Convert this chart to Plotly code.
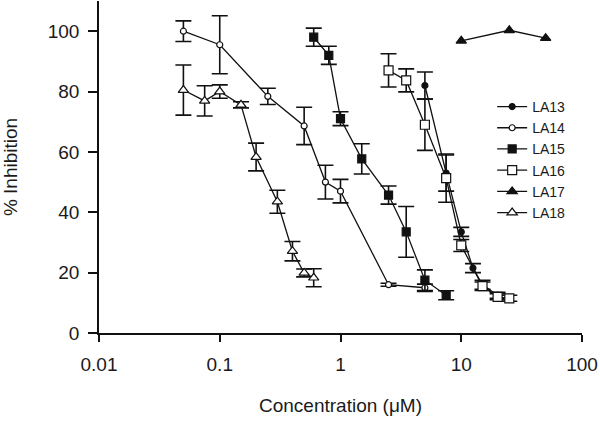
import plotly.graph_objects as go

# ---- data ----
la13_x = [5, 7.5, 10, 12.5, 15, 20]
la13_y = [82, 53, 33.5, 21.5, 16, 12.5]
la13_e = [4.5, 6, 1.5, 1.5, 1.5, 1]

la14_x = [0.05, 0.1, 0.25, 0.5, 0.75, 1, 2.5, 5]
la14_y = [100, 95.5, 78.4, 68.6, 50, 47, 16, 15]
la14_e = [3.4, 9.6, 2.7, 6.2, 5.6, 3.9, 0.5, 1.2]

la15_x = [0.6, 0.8, 1, 1.5, 2.5, 3.5, 5, 7.5]
la15_y = [98, 92, 71, 57.7, 45.7, 33.5, 17.5, 12.5]
la15_e = [3, 3, 2.3, 5, 3, 8.4, 3.4, 1.5]

la16_x = [2.5, 3.5, 5, 7.5, 10, 15, 20, 25]
la16_y = [87, 83.7, 69, 51.3, 29, 15.5, 12, 11.5]
la16_e = [5.5, 3.8, 8.5, 8, 2, 1.4, 1, 1]

la17_x = [10, 25, 50]
la17_y = [96.8, 100.3, 97.7]

la18_x = [0.05, 0.075, 0.1, 0.15, 0.2, 0.3, 0.4, 0.5, 0.6]
la18_y = [80.5, 76.9, 80, 75.6, 58.3, 43.5, 27.1, 19.9, 18.3]
la18_e = [8.3, 5, 2.2, 1, 4.6, 3.8, 3.2, 1.3, 3]

x_ticks = [0.01, 0.1, 1, 10, 100]
x_tick_text = ["0.01", "0.1", "1", "10", "100"]
y_ticks = [0, 20, 40, 60, 80, 100]

FONT = "Liberation Sans, Arial, sans-serif"
BLACK = "#111111"
TEXT = "#1a1a1a"

fig = go.Figure()


def add(name, x, y, e, symbol, size, filled):
    err = None
    if e is not None:
        err = dict(type="data", array=e, visible=True, color=BLACK,
                   thickness=1.6, width=8)
    fig.add_trace(go.Scatter(
        x=x, y=y, name=name, mode="lines+markers",
        line=dict(color=BLACK, width=1.3),
        marker=dict(symbol=symbol, size=size,
                    color=BLACK if filled else "white",
                    line=dict(color=BLACK, width=1.2)),
        error_y=err,
    ))


add("LA13", la13_x, la13_y, la13_e, "circle", 6, True)
add("LA14", la14_x, la14_y, la14_e, "circle", 6, False)
add("LA15", la15_x, la15_y, la15_e, "square", 8, True)
add("LA16", la16_x, la16_y, la16_e, "square", 9, False)
add("LA17", la17_x, la17_y, None, "triangle-up", 9, True)
add("LA18", la18_x, la18_y, la18_e, "triangle-up", 9, False)

fig.update_layout(
    width=600, height=425,
    margin=dict(l=97, r=18, t=1, b=92),
    paper_bgcolor="white", plot_bgcolor="white",
    font=dict(family=FONT, size=19, color=TEXT),
    showlegend=True,
    legend=dict(x=0.814, y=0.729, xanchor="left", yanchor="top",
                bgcolor="rgba(0,0,0,0)", font=dict(size=14, color=TEXT),
                tracegroupgap=0, itemsizing="trace"),
    xaxis=dict(type="log", range=[-2, 2], tickvals=x_ticks, ticktext=x_tick_text,
               showline=True, linecolor=BLACK, linewidth=1.5,
               ticks="outside", ticklen=7, tickwidth=1.5, tickcolor=BLACK,
               showgrid=False, zeroline=False,
               ticklabelstandoff=6,
               title=dict(text="Concentration (μM)", standoff=25,
                          font=dict(size=19))),
    yaxis=dict(range=[0, 110], tickvals=y_ticks,
               showline=True, linecolor=BLACK, linewidth=1.5,
               ticks="outside", ticklen=9, tickwidth=1.5, tickcolor=BLACK,
               showgrid=False, zeroline=False,
               ticklabelstandoff=5,
               title=dict(text="% Inhibition", standoff=33,
                          font=dict(size=19))),
)

fig.write_html("out.html", config={"displayModeBar": False},
               post_script="document.body.style.margin='0px';")
